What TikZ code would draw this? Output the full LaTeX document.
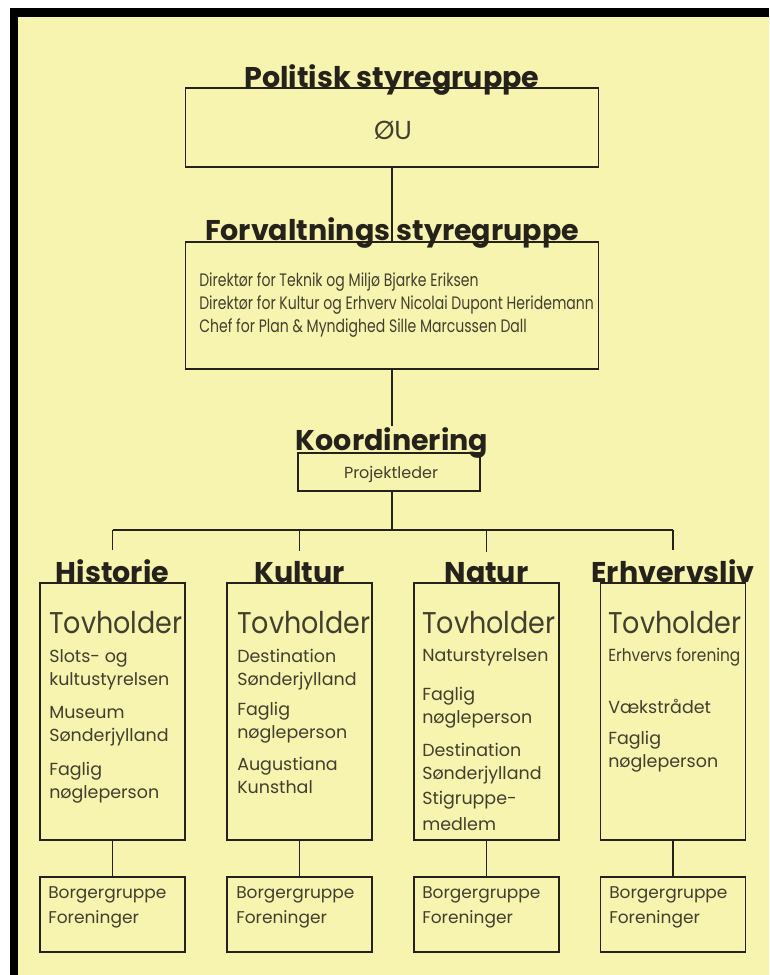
\documentclass[tikz,border=0pt]{standalone}
\usepackage{fontspec}
\usepackage{tikz}
\usetikzlibrary{positioning}
\setmainfont{Poppins}
\newfontfamily\tovfont[FakeStretch=0.9]{Poppins}
\newfontfamily\narrowfont[FakeStretch=0.78]{Poppins}
\newfontfamily\midfont[FakeStretch=0.88]{Poppins}
\definecolor{bg}{RGB}{247,244,176}
\definecolor{ink}{RGB}{36,34,26}
\definecolor{txt}{RGB}{66,63,46}
\newcommand\headfont{\fontsize{21.4pt}{24pt}\bfseries\selectfont}
\newcommand\bodyfont{\fontsize{13.1pt}{17.25pt}\selectfont}
\tikzset{
  orgbox/.style={draw=ink, line width=1.4pt, inner sep=0pt},
  groupbox/.style={orgbox, minimum width=108.75pt, minimum height=192.75pt},
  citizenbox/.style={orgbox, minimum width=108.75pt, minimum height=56.25pt},
  headline/.style={font=\headfont, text=ink, inner xsep=0pt, inner ysep=1pt, anchor=base},
  grouphead/.style={headline, inner ysep=7pt},
  entry/.style={font=\bodyfont, text=txt, align=left, anchor=base west, inner sep=0pt},
  tov/.style={font=\tovfont\fontsize{22.5pt}{26pt}\selectfont, text=txt, anchor=base west, inner sep=0pt},
  citizen/.style={entry, font=\fontsize{12.75pt}{18.75pt}\selectfont},
  link/.style={draw=ink, line width=1.2pt}
}
\begin{document}
\begin{tikzpicture}[x=0.75pt, y=-0.75pt]
\useasboundingbox (0,0) rectangle (769,975);
\fill[white] (0,0) rectangle (769,975);
\fill[bg] (18,17) rectangle (769,975);
\fill[black] (10,8) rectangle (769,17);
\fill[black] (10,8) rectangle (18,975);

\node[orgbox, minimum width=309.75pt, minimum height=59.25pt] (pol) at (392,127.5) {};
\node[orgbox, minimum width=309.75pt, minimum height=95.25pt] (forv) at (392,305.5) {};
\node[orgbox, minimum width=136.5pt, minimum height=28.5pt] (proj) at (389,472) {};
\node[groupbox] (hist) at (112.5,711.5) {};
\node[groupbox] (kult) at (299.5,711.5) {};
\node[groupbox] (natur) at (486.5,711.5) {};
\node[groupbox] (erhv) at (673,711.5) {};
\node[citizenbox] (histbot) at (112.5,914.5) {};
\node[citizenbox] (kultbot) at (299.5,914.5) {};
\node[citizenbox] (naturbot) at (486.5,914.5) {};
\node[citizenbox] (erhvbot) at (673,914.5) {};

\node[headline] (poltitle) at (392,87) {Politisk styregruppe};
\node[headline] (forvtitle) at (392,240) {Forvaltnings styregruppe};
\node[headline] (koortitle) at (392,450) {Koordinering};
\node[grouphead] (histtitle) at (112.5,582) {Historie};
\node[grouphead] (kulttitle) at (299.5,582) {Kultur};
\node[grouphead] (naturtitle) at (486.5,582) {Natur};
\node[grouphead] (erhvtitle) at (673,582) {Erhvervsliv};
\coordinate (bus) at (392,530);

\draw[link] (pol) -- (forv);
\draw[link] (forv) -- (koortitle);
\draw[link] (proj.south -| bus) -- (bus);
\draw[link] (histtitle |- bus) -- (erhvtitle |- bus);
\foreach \g in {hist,kult,natur,erhv} {
  \draw[link] (\g title |- bus) -- (\g title);
  \draw[link] (\g) -- (\g bot);
}

\node[font=\fontsize{19.5pt}{22pt}\selectfont, text=txt, anchor=base] (ou) at (393,139) {ØU};
\node[entry, font=\narrowfont\fontsize{13.5pt}{16.9pt}\selectfont] (forvnames) at (199,332)
  {Direktør for Teknik og Miljø Bjarke Eriksen\\
   Direktør for Kultur og Erhverv Nicolai Dupont Heridemann\\
   Chef for Plan \& Myndighed Sille Marcussen Dall};
\node[font=\fontsize{12pt}{14pt}\selectfont, text=txt, anchor=base] (projname) at (391,478) {Projektleder};

\node[tov] (histtov) at (49,633) {Tovholder};
\node[entry] (hista) at (49,685) {Slots- og\\kultustyrelsen};
\node[entry] (histb) at (49,741) {Museum\\Sønderjylland};
\node[entry] (histc) at (49,798) {Faglig\\nøgleperson};

\node[tov] (kulttov) at (237,633) {Tovholder};
\node[entry] (kulta) at (237,685) {Destination\\Sønderjylland};
\node[entry] (kultb) at (237,738) {Faglig\\nøgleperson};
\node[entry] (kultc) at (237,793) {Augustiana\\Kunsthal};

\node[tov] (naturtov) at (422,633) {Tovholder};
\node[entry] (natura) at (422,661) {Naturstyrelsen};
\node[entry] (naturb) at (422,723) {Faglig\\nøgleperson};
\node[entry] (naturc) at (422,779) {Destination\\Sønderjylland};
\node[entry, font=\fontsize{13.1pt}{19.5pt}\selectfont] (naturd) at (422,830) {Stigruppe-\\medlem};

\node[tov] (erhvtov) at (608,633) {Tovholder};
\node[entry, font=\midfont\fontsize{13.1pt}{17.25pt}\selectfont] (erhva) at (608,661) {Erhvervs forening};
\node[entry] (erhvb) at (608,713) {Vækstrådet};
\node[entry] (erhvc) at (608,767) {Faglig\\nøgleperson};

\node[citizen] (histcit) at (48,923) {Borgergruppe\\Foreninger};
\node[citizen] (kultcit) at (236,923) {Borgergruppe\\Foreninger};
\node[citizen] (naturcit) at (422,923) {Borgergruppe\\Foreninger};
\node[citizen] (erhvcit) at (609,923) {Borgergruppe\\Foreninger};
\end{tikzpicture}
\end{document}
